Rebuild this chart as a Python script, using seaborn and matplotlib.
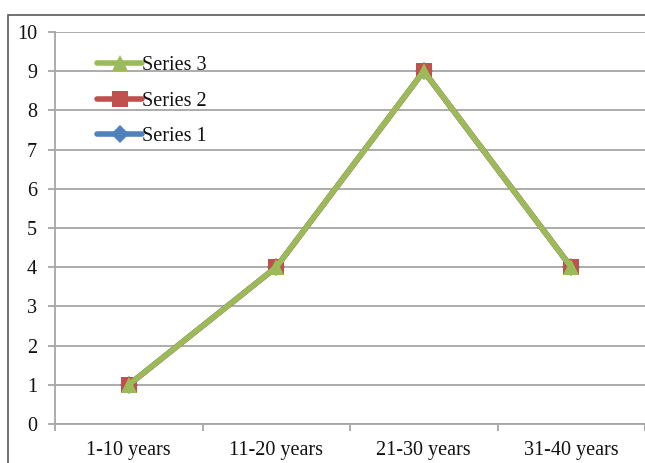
import matplotlib
matplotlib.use("Agg")
import matplotlib.pyplot as plt
import matplotlib.patches as mpatches
from matplotlib.ticker import FixedLocator
import seaborn as sns
import pandas as pd

categories = ["1-10 years", "11-20 years", "21-30 years", "31-40 years"]
series_names = ["Series 1", "Series 2", "Series 3"]
series1 = [1, 4, 9, 4]
series2 = [1, 4, 9, 4]
series3 = [1, 4, 9, 4]
y_ticks = list(range(0, 11))

colors = {"Series 1": "#4F81BD", "Series 2": "#C0504D", "Series 3": "#9BBB59"}
markers = {"Series 1": "D", "Series 2": "s", "Series 3": "^"}
msizes = {"Series 1": 7.5, "Series 2": 11, "Series 3": 11.5}
widths = {"Series 1": 3.0, "Series 2": 3.2, "Series 3": 4.0}

df = pd.DataFrame({
    "category": categories * 3,
    "value": series1 + series2 + series3,
    "series": [s for s in series_names for _ in categories],
})

sns.set_style("white")
plt.rcParams["font.family"] = ["Liberation Serif", "DejaVu Serif"]

fig = plt.figure(figsize=(6.45, 4.63), dpi=100)
ax = fig.add_axes([55 / 645, 39 / 463, 1 - 55 / 645, (424 - 32) / 463])

for i, name in enumerate(series_names):
    sub = df[df["series"] == name]
    sns.lineplot(data=sub, x="category", y="value", ax=ax, color=colors[name],
                 marker=markers[name], markersize=msizes[name],
                 linewidth=widths[name], markeredgewidth=0, label=name,
                 zorder=3 + i, sort=False)

ax.set_xlim(-0.5, len(categories) - 0.5)
ax.set_ylim(0, 10)
ax.set_yticks(y_ticks)
ax.set_xticks(range(len(categories)))
ax.set_xticklabels(categories)
ax.xaxis.set_minor_locator(FixedLocator([i - 0.5 for i in range(len(categories) + 1)]))
ax.set_xlabel("")
ax.set_ylabel("")

ax.yaxis.grid(True, color="#A6A6A6", linewidth=1.3)
ax.set_axisbelow(True)
for side in ["top", "right"]:
    ax.spines[side].set_visible(False)
for side in ["left", "bottom"]:
    ax.spines[side].set_color("#A6A6A6")
    ax.spines[side].set_linewidth(1.3)

ax.tick_params(axis="y", which="major", length=5, width=1.3, color="#A6A6A6",
               labelsize=14.5, pad=8, left=True, labelcolor="#111111")
ax.tick_params(axis="x", which="major", length=0, labelsize=14.5, pad=12,
               labelcolor="#111111")
ax.tick_params(axis="x", which="minor", length=5, width=1.3, color="#A6A6A6",
               bottom=True)

handles, labels = ax.get_legend_handles_labels()
for h in handles:
    h.set_linewidth(4.0)
    if h.get_marker() == "D":
        h.set_markersize(9)
leg = ax.legend(handles[::-1], labels[::-1], loc="upper left",
                bbox_to_anchor=(0.072, 0.938), frameon=False, fontsize=14.5,
                handlelength=2.2, handletextpad=0.0, labelspacing=0.8,
                borderaxespad=0, borderpad=0)
for t in leg.get_texts():
    t.set_color("#111111")

# outer chart frame
fig.patches.append(mpatches.Rectangle((8 / 645, -0.1), 1.2, (463 - 15) / 463 + 0.1,
                                      transform=fig.transFigure, fill=False,
                                      edgecolor="#595959", linewidth=1.2,
                                      clip_on=False))

fig.savefig("out.png", dpi=100)
